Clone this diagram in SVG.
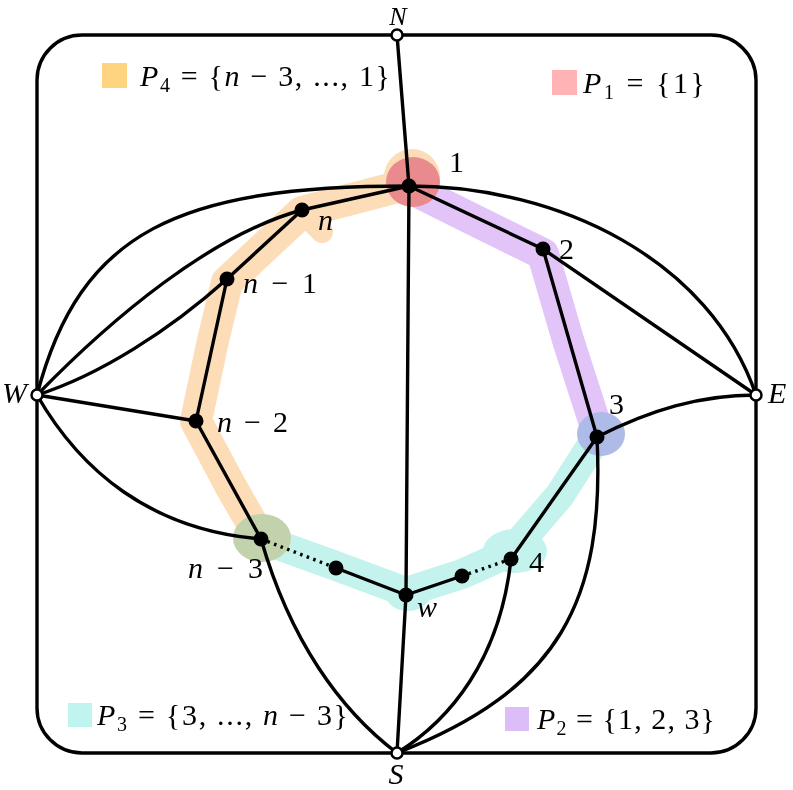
<svg xmlns="http://www.w3.org/2000/svg" width="793" height="790" viewBox="0 0 793 790">
<style>
.e{fill:none;stroke:#000;stroke-width:3.4;stroke-linecap:round;stroke-linejoin:round}
.dot{fill:none;stroke:#000;stroke-width:3.4;stroke-dasharray:2.5 4.5}
.b{stroke-linecap:round;stroke-linejoin:round;fill:none}
.in{fill:#000}
.out{fill:#fff;stroke:#000;stroke-width:2.5}
text{font-family:"Liberation Serif","DejaVu Serif",serif;fill:#000}
.lb{font-size:30px}
.lg{font-size:30px}
.i{font-style:italic}
.sub{font-size:20px}
</style>
<rect width="793" height="790" fill="#fff"/>
<g id="blobs" style="isolation:isolate">
  <g id="blob-p4" style="mix-blend-mode:multiply" fill="#FCDDB8" stroke="#FCDDB8">
    <path class="b" stroke-width="32" d="M409,184 L302,212 L227,282 L212,345 L196,421 L230,485 L261,539"/>
    <circle cx="412" cy="177" r="28" stroke="none"/>
    <path class="b" stroke-width="22" d="M302,212 L322,232"/>
    <ellipse cx="262" cy="538" rx="29" ry="24" stroke="none"/>
  </g>
  <g id="blob-p2" style="mix-blend-mode:multiply" fill="#E2C4F8" stroke="#E2C4F8">
    <path class="b" stroke-width="32" d="M418,192 L470,218 L543,254 L568,340 L597,430"/>
    <ellipse cx="601" cy="434" rx="24" ry="22" stroke="none"/>
  </g>
  <g id="blob-p3" style="mix-blend-mode:multiply" fill="#C4F3EE" stroke="#C4F3EE">
    <path class="b" stroke-width="30" d="M597,437 L560,495 L511,552 L462,574 L406,592 L336,566 L261,539"/>
    <ellipse cx="515" cy="551" rx="32" ry="22" stroke="none"/>
    <ellipse cx="408" cy="595" rx="22" ry="16" stroke="none"/>
    <ellipse cx="601" cy="434" rx="24" ry="22" stroke="none"/>
    <ellipse cx="262" cy="538" rx="29" ry="24" stroke="none"/>
  </g>
  <g id="blob-p1">
    <ellipse cx="413" cy="182" rx="27" ry="25" fill="#E98A8E"/>
  </g>
</g>
<g id="connectors">
  <rect class="e" x="37" y="35" width="719" height="718" rx="45"/>
  <path class="e" d="M397,35 L409,186"/>
  <path class="e" d="M409,186 L406,595 L397,753"/>
  <path class="e" d="M37,395 C80,230 180,186 409,186"/>
  <path class="e" d="M409,186 C560,186 710,260 756,395"/>
  <path class="e" d="M37,395 C110,320 210,235 302,210"/>
  <path class="e" d="M37,395 C100,375 170,330 227,279"/>
  <path class="e" d="M37,395 L196,421"/>
  <path class="e" d="M37,395 C80,470 150,530 261,539"/>
  <path class="e" d="M543,249 L756,395"/>
  <path class="e" d="M597,437 C650,410 700,395 756,395"/>
  <path class="e" d="M261,539 C290,640 340,710 397,753"/>
  <path class="e" d="M511,559 C500,660 450,720 397,753"/>
  <path class="e" d="M597,437 C605,600 560,690 397,753"/>
  <path class="e" d="M409,186 L302,210 L227,279 L196,421 L261,539"/>
  <path class="e" d="M409,186 L543,249 L597,437 L511,559"/>
  <path class="e" d="M336,568 L406,595 L462,576"/>
  <path class="dot" d="M261,539 L336,568"/>
  <path class="dot" d="M462,576 L511,559"/>
</g>
<g id="node-N"><circle class="out" cx="397" cy="35" r="5.5"/><text class="i" x="398" y="25" text-anchor="middle" font-size="26">N</text></g>
<g id="node-W"><circle class="out" cx="37" cy="395" r="5.5"/><text class="lb i" x="2" y="403">W</text></g>
<g id="node-E"><circle class="out" cx="756" cy="395" r="5.5"/><text class="lb i" x="768" y="403">E</text></g>
<g id="node-S"><circle class="out" cx="397" cy="753" r="5.5"/><text class="lb i" x="396" y="784" text-anchor="middle">S</text></g>
<g id="node-1"><circle class="in" cx="409" cy="186" r="7.5"/><text class="lb" x="449" y="172">1</text></g>
<g id="node-2"><circle class="in" cx="543" cy="249" r="7.5"/><text class="lb" x="559" y="259">2</text></g>
<g id="node-3"><circle class="in" cx="597" cy="437" r="7.5"/><text class="lb" x="609" y="414">3</text></g>
<g id="node-4"><circle class="in" cx="511" cy="559" r="7.5"/><text class="lb" x="529" y="572">4</text></g>
<g id="node-b"><circle class="in" cx="462" cy="576" r="7.5"/></g>
<g id="node-w"><circle class="in" cx="406" cy="595" r="7.5"/><text class="lb i" x="417" y="617">w</text></g>
<g id="node-a"><circle class="in" cx="336" cy="568" r="7.5"/></g>
<g id="node-n3"><circle class="in" cx="261" cy="539" r="7.5"/><text class="lb" x="188" y="578" textLength="75"><tspan class="i">n</tspan> − 3</text></g>
<g id="node-n2"><circle class="in" cx="196" cy="421" r="7.5"/><text class="lb" x="217" y="432" textLength="71"><tspan class="i">n</tspan> − 2</text></g>
<g id="node-n1"><circle class="in" cx="227" cy="279" r="7.5"/><text class="lb" x="243" y="293" textLength="74"><tspan class="i">n</tspan> − 1</text></g>
<g id="node-n"><circle class="in" cx="302" cy="210" r="7.5"/><text class="lb i" x="318" y="230">n</text></g>
<g id="legend-p4"><rect x="102" y="63" width="25" height="25" fill="#FFD480"/><text class="lg" x="140" y="86" textLength="250"><tspan class="i">P</tspan><tspan class="sub" dy="6">4</tspan><tspan dy="-6"> = {</tspan><tspan class="i">n</tspan> − 3, ..., 1}</text></g>
<g id="legend-p1"><rect x="552" y="70" width="25" height="25" fill="#FFB3B5"/><text class="lg" x="583" y="93" textLength="122"><tspan class="i">P</tspan><tspan class="sub" dy="6">1</tspan><tspan dy="-6"> = {1}</tspan></text></g>
<g id="legend-p3"><rect x="68" y="703" width="24" height="24" fill="#BFF4EF"/><text class="lg" x="97" y="725" textLength="251"><tspan class="i">P</tspan><tspan class="sub" dy="6">3</tspan><tspan dy="-6"> = {3, ..., </tspan><tspan class="i">n</tspan> − 3}</text></g>
<g id="legend-p2"><rect x="505" y="707" width="24" height="24" fill="#DDBDF8"/><text class="lg" x="537" y="729" textLength="178"><tspan class="i">P</tspan><tspan class="sub" dy="6">2</tspan><tspan dy="-6"> = {1, 2, 3}</tspan></text></g>
</svg>
